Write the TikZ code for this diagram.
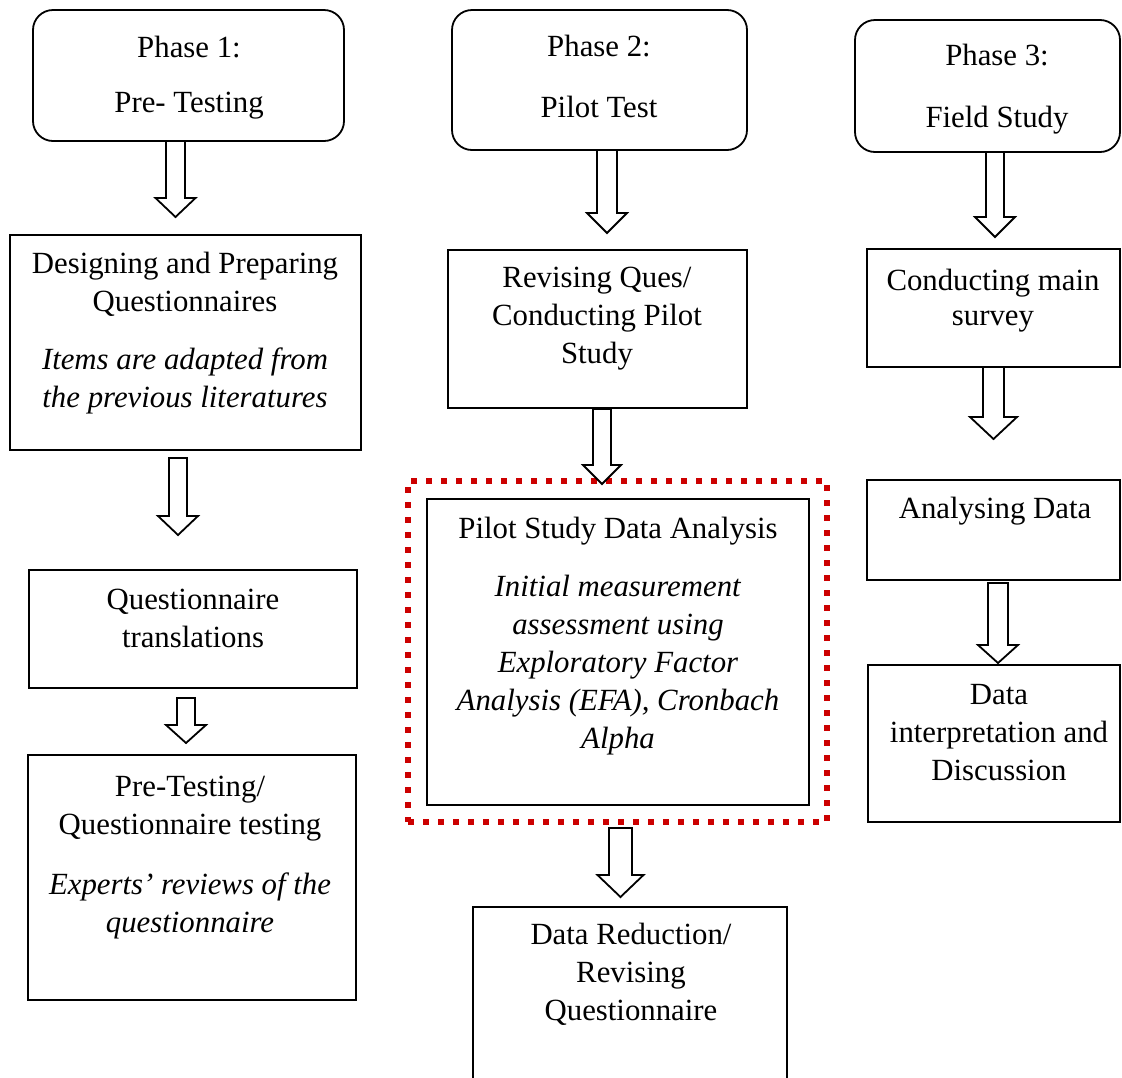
\documentclass[tikz,border=0pt]{standalone}
\usepackage{fontspec}
\setmainfont{Liberation Serif}
\definecolor{dotred}{RGB}{204,0,0}
\newcommand{\blockarrow}[7]{%
  \draw[blk] ([shift={(#2,#3)}]#1) ++(-#6,0) -- ++(0,#4) -- ++({#6-#7},0) -- ++(#7,#5) -- ++(#7,-#5) -- ++({#6-#7},0) -- ++(0,-#4) -- cycle;}
\begin{document}
\begin{tikzpicture}[x=1pt,y=-1pt,
  box/.style={draw, line width=1.8pt, inner sep=0pt, outer sep=0pt},
  phase/.style={box, rounded corners=20pt},
  txt/.style={align=center, inner sep=0pt, anchor=base, font=\fontsize{30.8}{38}\selectfont},
  blk/.style={draw, fill=white, line width=1.8pt, line join=miter},
  frame/.style={draw=dotred, line width=6pt, dash pattern=on 6pt off 9pt, inner sep=0pt, outer sep=0pt}]
\useasboundingbox[fill=white] (0,0) rectangle (1122,1077);

% Column 1
\node[phase, minimum width=311pt, minimum height=131pt] (p1) at (188.5,75.5) {};
\node[box, minimum width=351pt, minimum height=215pt] (b1) at (185.5,342.5) {};
\node[box, minimum width=328pt, minimum height=118pt] (b2) at (193,629) {};
\node[box, minimum width=328pt, minimum height=245pt] (b3) at (192,877.5) {};

% Column 2
\node[phase, minimum width=295pt, minimum height=140pt] (p2) at (599.5,80) {};
\node[box, minimum width=299pt, minimum height=158pt] (b4) at (597.5,329) {};
\node[frame, minimum width=419pt, minimum height=341pt] (fr) at (617.5,651.5) {};
\node[box, minimum width=382pt, minimum height=306pt] (b5) at (618,652) {};
\node[box, minimum width=314pt, minimum height=193pt] (b6) at (630,1003.5) {};

% Column 3
\node[phase, minimum width=265pt, minimum height=132pt] (p3) at (987.5,86) {};
\node[box, minimum width=253pt, minimum height=118pt] (b7) at (993.5,308) {};
\node[box, minimum width=253pt, minimum height=100pt] (b8) at (993.5,530) {};
\node[box, minimum width=252pt, minimum height=157pt] (b9) at (994,743.5) {};

% Texts (anchored at the baseline of their last line)
\node[txt] (t1) at (189,112) {Phase 1:\\[17pt]Pre- Testing};
\node[txt] (t2) at (599,117) {Phase 2:\\[23pt]Pilot Test};
\node[txt] (t3) at (997,127) {Phase 3:\\[24pt]Field Study};
\node[txt] (tb1) at (185,407) {Designing and Preparing\\Questionnaires\\[20pt]\textit{Items are adapted from}\\\textit{the previous literatures}};
\node[txt] (tb2) at (193,647) {Questionnaire\\translations};
\node[txt] (tb3) at (190,932) {Pre-Testing/\\Questionnaire testing\\[22pt]\textit{Experts’ reviews of the}\\\textit{questionnaire}};
\node[txt] (tb4) at (597,363) {Revising Ques/\\Conducting Pilot\\Study};
\node[txt] (tb5) at (618,748) {Pilot Study Data Analysis\\[20pt]\textit{Initial measurement}\\\textit{assessment using}\\\textit{Exploratory Factor}\\\textit{Analysis (EFA), Cronbach}\\\textit{Alpha}};
\node[txt] (tb6) at (631,1020) {Data Reduction/\\Revising\\Questionnaire};
\node[txt] (tb7) at (993,325) {Conducting main\\[-3pt]survey};
\node[txt] (tb8) at (995,518) {Analysing Data};
\node[txt] (tb9) at (999,780) {Data\\interpretation and\\Discussion};

% Block arrows: source anchor, xshift, gap, shaft length, head length, shaft half width, head half width
\blockarrow{p1.south}{-13}{0}{57}{19}{9.5}{20}
\blockarrow{b1.south}{-7.5}{8}{58}{19}{9}{20}
\blockarrow{b2.south}{-7}{10}{27}{18}{9}{20}
\blockarrow{p2.south}{7.5}{0}{63}{20}{10}{20}
\blockarrow{b4.south}{4.5}{1}{56}{19}{9}{19}
\blockarrow{fr.south}{3}{6}{47}{22}{11.5}{23}
\blockarrow{p3.south}{7.5}{0}{65}{20}{9}{20}
\blockarrow{b7.south}{0}{0}{50}{22}{10.5}{23.5}
\blockarrow{b8.south}{4.5}{3}{62}{18}{10}{20}
\end{tikzpicture}
\end{document}
